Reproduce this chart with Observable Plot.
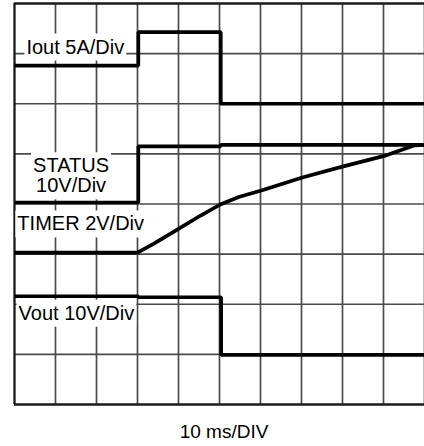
<!DOCTYPE html>
<html>
<head>
<meta charset="utf-8">
<script src="https://cdn.jsdelivr.net/npm/d3@7"></script>
<script src="https://cdn.jsdelivr.net/npm/@observablehq/plot@0.6"></script>
<style>
  html, body { margin: 0; padding: 0; background: #fff; }
  #chart svg { display: block; }
  #caption {
    font-family: "Liberation Sans", Arial, sans-serif;
    font-size: 19px;
    line-height: 19px;
    margin-top: 10px;
    padding-left: 24px;
    width: 400px;
    text-align: center;
    color: #000;
  }
</style>
</head>
<body>
<div id="chart"></div>
<div id="caption"></div>
<script>
// Oscilloscope grid: 10 horizontal divisions (10 ms/DIV), 8 vertical divisions
const gridX = [0, 1, 2, 3, 4, 5, 6, 7, 8, 9, 10];
const gridY = [0, 1, 2, 3, 4, 5, 6, 7, 8];

// Traces (time in divisions, level in divisions from the bottom of the screen)
const ioutTime  = [0, 3.02, 3.02, 5.03, 5.03, 10];
const ioutLevel = [6.76, 6.76, 7.43, 7.43, 6.0, 6.0];

const statusTime  = [0, 3.02, 3.02, 5.03, 5.03, 10];
const statusLevel = [4.03, 4.03, 5.15, 5.15, 5.18, 5.18];

const timerTime  = [0, 3.0, 3.40, 4.01, 4.54, 5.02, 5.47, 6.02, 7.02, 8.02, 9.02, 9.76, 10];
const timerLevel = [3.03, 3.03, 3.21, 3.51, 3.77, 3.99, 4.14, 4.27, 4.53, 4.75, 4.96, 5.17, 5.18];

const voutTime  = [0, 3.02, 3.02, 5.04, 5.04, 10];
const voutLevel = [2.16, 2.16, 2.14, 2.14, 0.99, 0.99];

// Channel labels
const labelText   = ["Iout 5A/Div", "STATUS\n10V/Div", "TIMER 2V/Div", "Vout 10V/Div"];
const labelTime   = [0.29, 1.38, 0.07, 0.10];
const labelLevel  = [7.13, 4.56, 3.60, 1.82];
const labelCenter = [false, true, false, false];

const captionText = "10 ms/DIV";

const toRows = (t, v) => t.map((d, i) => ({t: d, v: v[i]}));
const traces = [
  toRows(ioutTime, ioutLevel),
  toRows(statusTime, statusLevel),
  toRows(timerTime, timerLevel),
  toRows(voutTime, voutLevel)
];
const labels = labelText.map((s, i) => ({s, t: labelTime[i], v: labelLevel[i], c: labelCenter[i]}));

const font = "'Liberation Sans', Arial, sans-serif";
const textOpts = {x: "t", y: "v", text: "s", fontSize: 20, fontFamily: font, fill: "#000", lineHeight: 1.0, className: "chlabel"};

const svg = Plot.plot({
  width: 424,
  height: 412,
  marginLeft: 14,
  marginRight: 0,
  marginTop: 3,
  marginBottom: 8,
  x: {domain: [0, 10], axis: null},
  y: {domain: [0, 8], axis: null},
  style: {background: "#fff", overflow: "visible"},
  marks: [
    Plot.ruleX(gridX.slice(1), {x: d => d, stroke: "#4a4a4a", strokeWidth: 1.7}),
    Plot.ruleY(gridY.slice(1, -1), {y: d => d, stroke: "#4a4a4a", strokeWidth: 1.7}),
    Plot.ruleX([gridX[0]], {x: d => d, stroke: "#1a1a1a", strokeWidth: 2.3}),
    Plot.ruleY([gridY[0], gridY[gridY.length - 1]], {y: d => d, stroke: "#1a1a1a", strokeWidth: 2.3}),
    Plot.text(labels.filter(d => !d.c), {...textOpts, textAnchor: "start"}),
    Plot.text(labels.filter(d => d.c), {...textOpts, textAnchor: "middle"}),
    ...traces.map(rows => Plot.line(rows, {x: "t", y: "v", stroke: "#000", strokeWidth: 3.7, strokeLinejoin: "miter", strokeLinecap: "butt"}))
  ]
});

document.getElementById("chart").append(svg);
document.getElementById("caption").textContent = captionText;

// white background boxes behind the channel labels (hide grid lines like on the scope print)
const padX = 2, padY = 3;
svg.querySelectorAll("g.chlabel, g[aria-label='text']").forEach(g => {
  g.querySelectorAll("text").forEach(t => {
    const b = t.getBBox();
    const r = document.createElementNS("http://www.w3.org/2000/svg", "rect");
    r.setAttribute("x", b.x - padX);
    r.setAttribute("y", b.y - padY + 1);
    r.setAttribute("width", b.width + 2 * padX);
    r.setAttribute("height", b.height + 2 * padY - 1);
    r.setAttribute("fill", "#fff");
    const tr = t.getAttribute("transform");
    if (tr) r.setAttribute("transform", tr);
    g.insertBefore(r, t);
  });
});
</script>
</body>
</html>
